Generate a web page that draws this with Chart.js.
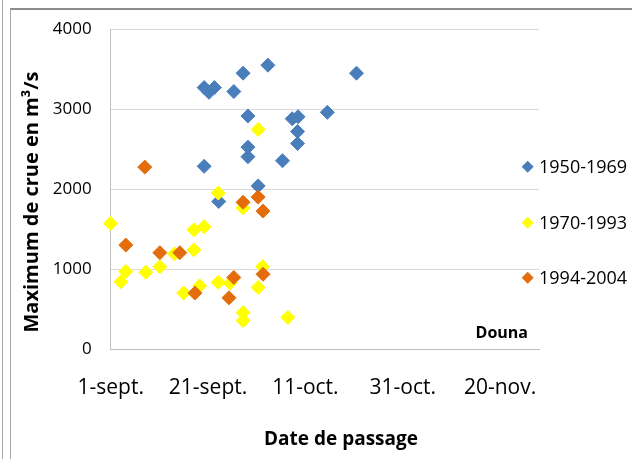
<!DOCTYPE html>
<html><head><meta charset="utf-8">
<script src="https://cdn.jsdelivr.net/npm/chart.js@4/dist/chart.umd.min.js"></script>
<style>
html,body{margin:0;padding:0;background:#fff;}
#wrap{position:relative;width:632px;height:459px;overflow:hidden;background:#fff;}
canvas{position:absolute;left:0;top:0;}
.l1{position:absolute;left:2px;top:0;width:1px;height:459px;background:#a6a6a6;}
.f{position:absolute;left:10px;top:8px;width:640px;height:470px;border-top:2px solid #8c8c8c;border-left:1px solid #a6a6a6;}
</style></head>
<body><div id="wrap"><div class="l1"></div><div class="f"></div><canvas id="c" width="632" height="459"></canvas></div>
<script>
// Series (x = days after 1 September, y = peak discharge m3/s)
const seriesNames = ['1950-1969', '1970-1993', '1994-2004'];
const seriesColors = ['#4a7ebb', '#ffff00', '#e46c0a'];

const blueDays = [19.2, 21.3, 20.2, 27.2, 32.3, 25.3, 50.5, 28.2, 37.3, 38.5, 44.5, 38.4, 38.4, 28.2, 28.2, 35.3, 19.2, 30.3, 22.2];
const blueVals = [3270, 3270, 3210, 3450, 3550, 3220, 3450, 2915, 2880, 2905, 2960, 2720, 2570, 2525, 2405, 2355, 2285, 2040, 1845];

const yellowDays = [0, 17.1, 19.2, 17.1, 13.1, 10.1, 7.2, 3.1, 2.1, 15.0, 18.3, 22.1, 22.1, 27.2, 30.3, 31.2, 30.3, 24.5, 27.2, 27.2, 36.4];
const yellowVals = [1570, 1490, 1530, 1240, 1190, 1030, 960, 970, 840, 700, 790, 835, 1950, 1765, 2745, 1030, 770, 825, 455, 355, 395];

const orangeDays = [7.0, 3.1, 10.1, 14.2, 17.3, 27.2, 30.3, 31.3, 31.3, 25.3, 24.3];
const orangeVals = [2275, 1300, 1205, 1205, 700, 1835, 1900, 1725, 935, 895, 640];

const xTickDays = [0, 20, 40, 60, 80];
const xTickLabels = ['1-sept.', '21-sept.', '11-oct.', '31-oct.', '20-nov.'];
const yTickVals = [0, 1000, 2000, 3000, 4000];
const xTitle = 'Date de passage';
const yTitle = 'Maximum de crue en m³/s';
const stationLabel = 'Douna';

const toPts = (xs, ys) => xs.map((x, i) => ({x: x, y: ys[i]}));
const allSeries = [toPts(blueDays, blueVals), toPts(yellowDays, yellowVals), toPts(orangeDays, orangeVals)];

const FONT = '"Open Sans", "Liberation Sans", sans-serif';

const extras = {
  id: 'extras',
  afterDraw(chart) {
    const ctx = chart.ctx;
    ctx.save();
    ctx.fillStyle = '#000';
    ctx.font = 'bold 20px ' + FONT;
    ctx.textAlign = 'center';
    ctx.textBaseline = 'middle';
    ctx.translate(32, 202);
    ctx.rotate(-Math.PI / 2);
    ctx.fillText(yTitle, 0, 0);
    ctx.restore();
    ctx.save();
    ctx.fillStyle = '#000';
    ctx.textBaseline = 'middle';
    ctx.textAlign = 'center';
    ctx.font = 'bold 19px ' + FONT;
    ctx.fillText(xTitle, 341, 440);
    ctx.font = 'bold 16px ' + FONT;
    ctx.textAlign = 'right';
    ctx.fillText(stationLabel, 528, 333);
    const legY = [166.7, 222.7, 277.7];
    ctx.font = '18px ' + FONT;
    ctx.textAlign = 'left';
    seriesNames.forEach((name, i) => {
      const cx = 527.7, cy = legY[i], r = 6;
      ctx.fillStyle = seriesColors[i];
      ctx.beginPath();
      ctx.moveTo(cx, cy - r); ctx.lineTo(cx + r, cy); ctx.lineTo(cx, cy + r); ctx.lineTo(cx - r, cy); ctx.closePath();
      ctx.fill();
      ctx.fillStyle = '#000';
      ctx.fillText(name, 539, cy + 1);
    });
    ctx.restore();
  }
};

new Chart(document.getElementById('c'), {
  type: 'scatter',
  data: {
    datasets: seriesNames.map((name, i) => ({
      label: name,
      data: allSeries[i],
      backgroundColor: seriesColors[i],
      borderColor: seriesColors[i],
      borderWidth: 1,
      pointStyle: 'rectRot',
      pointRadius: 7,
      pointHoverRadius: 7,
      clip: false,
      order: 2 - i
    }))
  },
  options: {
    responsive: false,
    animation: false,
    events: [],
    layout: {padding: {left: 0, right: 93, top: 23, bottom: 0}},
    plugins: {legend: {display: false}, tooltip: {enabled: false}, title: {display: false}},
    scales: {
      x: {
        type: 'linear', min: 0, max: 88,
        afterBuildTicks: s => { s.ticks = xTickDays.map(v => ({value: v})); },
        afterFit: s => { s.height = 110; },
        grid: {display: false},
        border: {display: true, color: '#bfbfbf', width: 1},
        ticks: {
          callback: v => { const k = xTickDays.indexOf(v); return k >= 0 ? xTickLabels[k] : ''; },
          font: {family: FONT, size: 21}, color: '#000', padding: 18, maxRotation: 0, autoSkip: false
        }
      },
      y: {
        min: 0, max: 4000,
        afterBuildTicks: s => { s.ticks = yTickVals.map(v => ({value: v})); },
        afterFit: s => { s.width = 110.7; },
        grid: {color: '#d9d9d9', drawTicks: false},
        border: {display: true, color: '#bfbfbf', width: 1},
        ticks: {callback: v => String(v), font: {family: FONT, size: 17}, color: '#000', padding: 19}
      }
    }
  },
  plugins: [extras]
});
</script>
</body></html>
